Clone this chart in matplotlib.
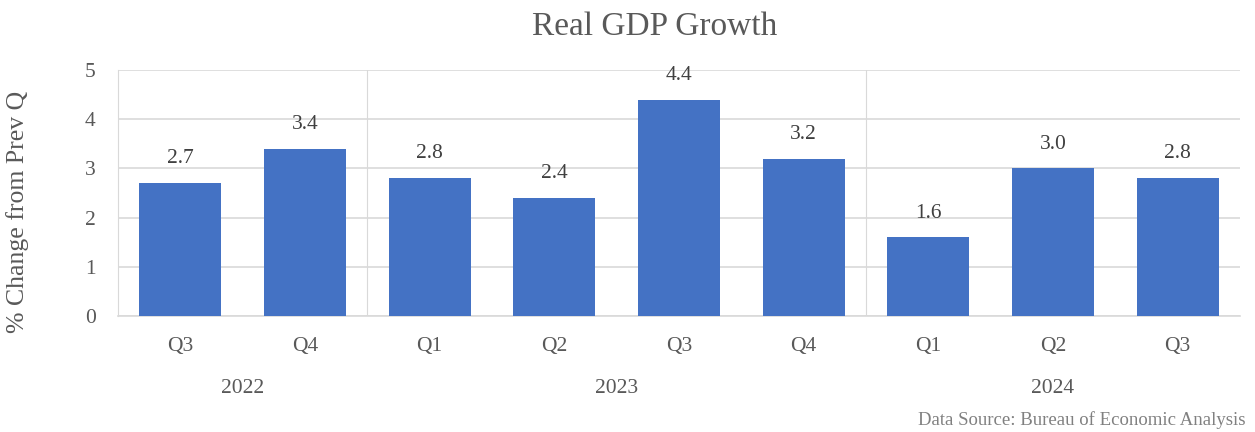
import numpy as np
import matplotlib.pyplot as plt

quarters = ['Q3', 'Q4', 'Q1', 'Q2', 'Q3', 'Q4', 'Q1', 'Q2', 'Q3']
years = ['2022', '2023', '2024']
year_counts = [2, 4, 3]
growth = [2.7, 3.4, 2.8, 2.4, 4.4, 3.2, 1.6, 3.0, 2.8]

plt.rcParams['font.family'] = ['Liberation Serif', 'DejaVu Serif']
txt = '#595959'
grid = '#d9d9d9'

fig = plt.figure(figsize=(12.55, 4.32), dpi=100)
ax = fig.add_axes([118 / 1255, 1 - 316 / 432, 1122 / 1255, 246 / 432])

x = np.arange(len(growth))
bars = ax.bar(x, growth, width=0.66, color='#4472C4', zorder=3)
for xi, v in zip(x, growth):
    ax.text(xi, v + 0.3, f'{v:.1f}', ha='center', va='bottom', fontsize=15.5, color='#404040')

ax.set_xlim(-0.5, len(growth) - 0.5)
ax.set_ylim(0, 5)
ax.set_yticks(range(6))
ax.yaxis.grid(True, color=grid, linewidth=1.2, zorder=0)
ax.tick_params(axis='both', length=0, labelsize=15.5, colors=txt)
ax.tick_params(axis='y', pad=16)
ax.tick_params(axis='x', pad=15)
ax.set_xticks(x)
ax.set_xticklabels(quarters)
for s in ['top', 'right']:
    ax.spines[s].set_visible(False)
ax.spines['left'].set_color(grid)
ax.spines['bottom'].set_color(grid)
ax.spines['bottom'].set_linewidth(1.2)

# year group separators and labels
start = 0
for yr, n in zip(years, year_counts):
    if start > 0:
        ax.axvline(start - 0.5, color=grid, linewidth=0.8, zorder=1)
    ax.text(start + (n - 1) / 2, -0.255, yr, transform=ax.get_xaxis_transform(),
            ha='center', va='top', fontsize=15.5, color=txt)
    start += n

fig.text(18 / 1255, 1 - 212 / 432, '% Change from Prev Q', rotation=90,
         ha='center', va='center', fontsize=18.5, color=txt)

fig.text(655 / 1255, 1 - 27 / 432, 'Real GDP Growth', ha='center', va='center',
         fontsize=24, color=txt)
fig.text(1246 / 1255, 1 - 420 / 432, 'Data Source: Bureau of Economic Analysis',
         ha='right', va='center', fontsize=13.5, color='#808080')

fig.savefig('out.png', dpi=100)
